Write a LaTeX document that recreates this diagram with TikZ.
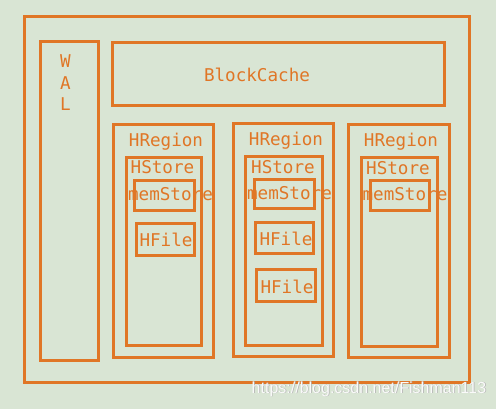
\documentclass[tikz,border=0pt]{standalone}
\usepackage{fontspec}
\setmonofont{DejaVu Sans Mono}
\setsansfont{Liberation Sans}
\usepackage{tikz}
\definecolor{bgcol}{RGB}{217,229,212}
\definecolor{hbcol}{RGB}{224,118,38}
\tikzset{
  box/.style={draw=hbcol, line width=3pt},
  lbl/.style={text=hbcol, font=\ttfamily\fontsize{17.6}{19}\selectfont, inner sep=0pt}
}

\begin{document}
\begin{tikzpicture}[x=1pt,y=-1pt]
				\fill[bgcol] (0,0) rectangle (496,409);
				\useasboundingbox (0,0) rectangle (496,409);
				% outer server box
				\draw[box] (24.5,16.5) rectangle (469,382.5);
				\draw[box] (40,41.5) rectangle (98,360);
				\draw[box] (112,42.5) rectangle (444,106);
				
				% regions
				\draw[box] (113.5,125) rectangle (213.5,357);
				\draw[box] (233,124) rectangle (333.5,356);
				\draw[box] (348.5,124.5) rectangle (449,357);
				
				% stores
				\draw[box] (126,157.5) rectangle (201.5,345);
				\draw[box] (245.5,157) rectangle (322,345);
				\draw[box] (361,158) rectangle (437.5,346.5);
				
				% memstores and files
				\draw[box] (134.5,181) rectangle (194,210.5);
				\draw[box] (136,224) rectangle (194,255.5);
				\draw[box] (254,180) rectangle (314,209);
				\draw[box] (255.5,223) rectangle (313.5,254);
				\draw[box] (256.5,270) rectangle (315,301.5);
				\draw[box] (370,181) rectangle (429.5,210.5);
				
				\node[lbl] (w) at (65.5,61) {W};
				\node[lbl] (a) at (65.5,83) {A};
				\node[lbl] (l) at (65.5,104) {L};
				\node[lbl] (cache) at (257,75) {BlockCache};
				
				\node[lbl] (reg1) at (166,142) {HRegion};
				\node[lbl] (reg2) at (286,141) {HRegion};
				\node[lbl] (reg3) at (401,142) {HRegion};
				
				\node[lbl] (st1) at (162.5,167.5) {HStore};
				\node[lbl] (st2) at (283,167) {HStore};
				\node[lbl] (st3) at (398,168) {HStore};
				
				\node[lbl] (mem1) at (170.5,194.5) {memStore};
				\node[lbl] (mem2) at (289.5,193.5) {memStore};
				\node[lbl] (mem3) at (405,194.5) {memStore};
				
				\node[lbl] (file1) at (166,240) {HFile};
				\node[lbl] (file2) at (286,239) {HFile};
				\node[lbl] (file3) at (287,287) {HFile};
				
				\node[text=gray!60, font=\sffamily\fontsize{16}{17}\selectfont, inner sep=0pt] at (369.7,389.7) {https://blog.csdn.net/Fishman113};
				\node[text=white!96!gray, font=\sffamily\fontsize{16}{17}\selectfont, inner sep=0pt] (mark) at (369,389) {https://blog.csdn.net/Fishman113};
			\end{tikzpicture}
\end{document}
